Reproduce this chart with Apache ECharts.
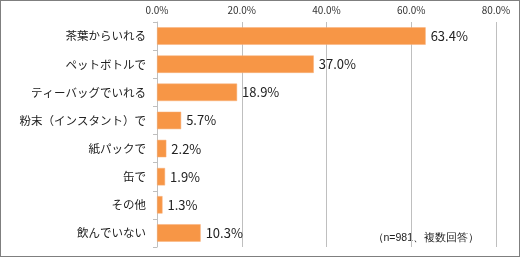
<!DOCTYPE html>
<html><head><meta charset="utf-8">
<script src="https://cdn.jsdelivr.net/npm/echarts@6/dist/echarts.min.js"></script>
<style>html,body{margin:0;padding:0;background:#fff}#c{width:520px;height:257px;box-sizing:border-box;border:1px solid #7f7f7f}</style>
</head><body><div id="c"></div>
<script>
const categories = ['茶葉からいれる','ペットボトルで','ティーバッグでいれる','粉末（インスタント）で','紙パックで','缶で','その他','飲んでいない'];
const values = [63.4, 37.0, 18.9, 5.7, 2.2, 1.9, 1.3, 10.3];
const note = '（n=981、複数回答）';
const font = '"Noto Sans CJK JP", sans-serif';
const chart = echarts.init(document.getElementById('c'));
chart.setOption({
  animation: false,
  grid: {left: 156, right: 23, top: 21, bottom: 9},
  xAxis: {type: 'value', position: 'top', min: 0, max: 80, interval: 20,
    axisLine: {show: false}, axisTick: {show: false},
    splitLine: {show: true, lineStyle: {color: '#bfbfbf', width: 1}},
    axisLabel: {formatter: v => v.toFixed(1) + '%', fontSize: 10, color: '#333', fontFamily: font, margin: 7}},
  yAxis: {type: 'category', data: categories, inverse: true,
    axisLine: {show: true, lineStyle: {color: '#bfbfbf'}},
    axisTick: {show: true, length: 4, lineStyle: {color: '#bfbfbf'}},
    axisLabel: {fontSize: 11.5, color: '#222', fontFamily: font, margin: 11}},
  series: [{type: 'bar', data: values, barWidth: '62%',
    itemStyle: {color: '#F79646', borderColor: '#f9b07a', borderWidth: 0.5},
    label: {show: true, position: 'right', distance: 5, formatter: p => p.value.toFixed(1) + '%', fontSize: 13, color: '#222', fontFamily: font}}],
  graphic: [{type: 'text', right: 40, bottom: 12, style: {text: note, fontSize: 10.5, fill: '#222', font: '10.5px ' + font}}]
});
</script></body></html>
